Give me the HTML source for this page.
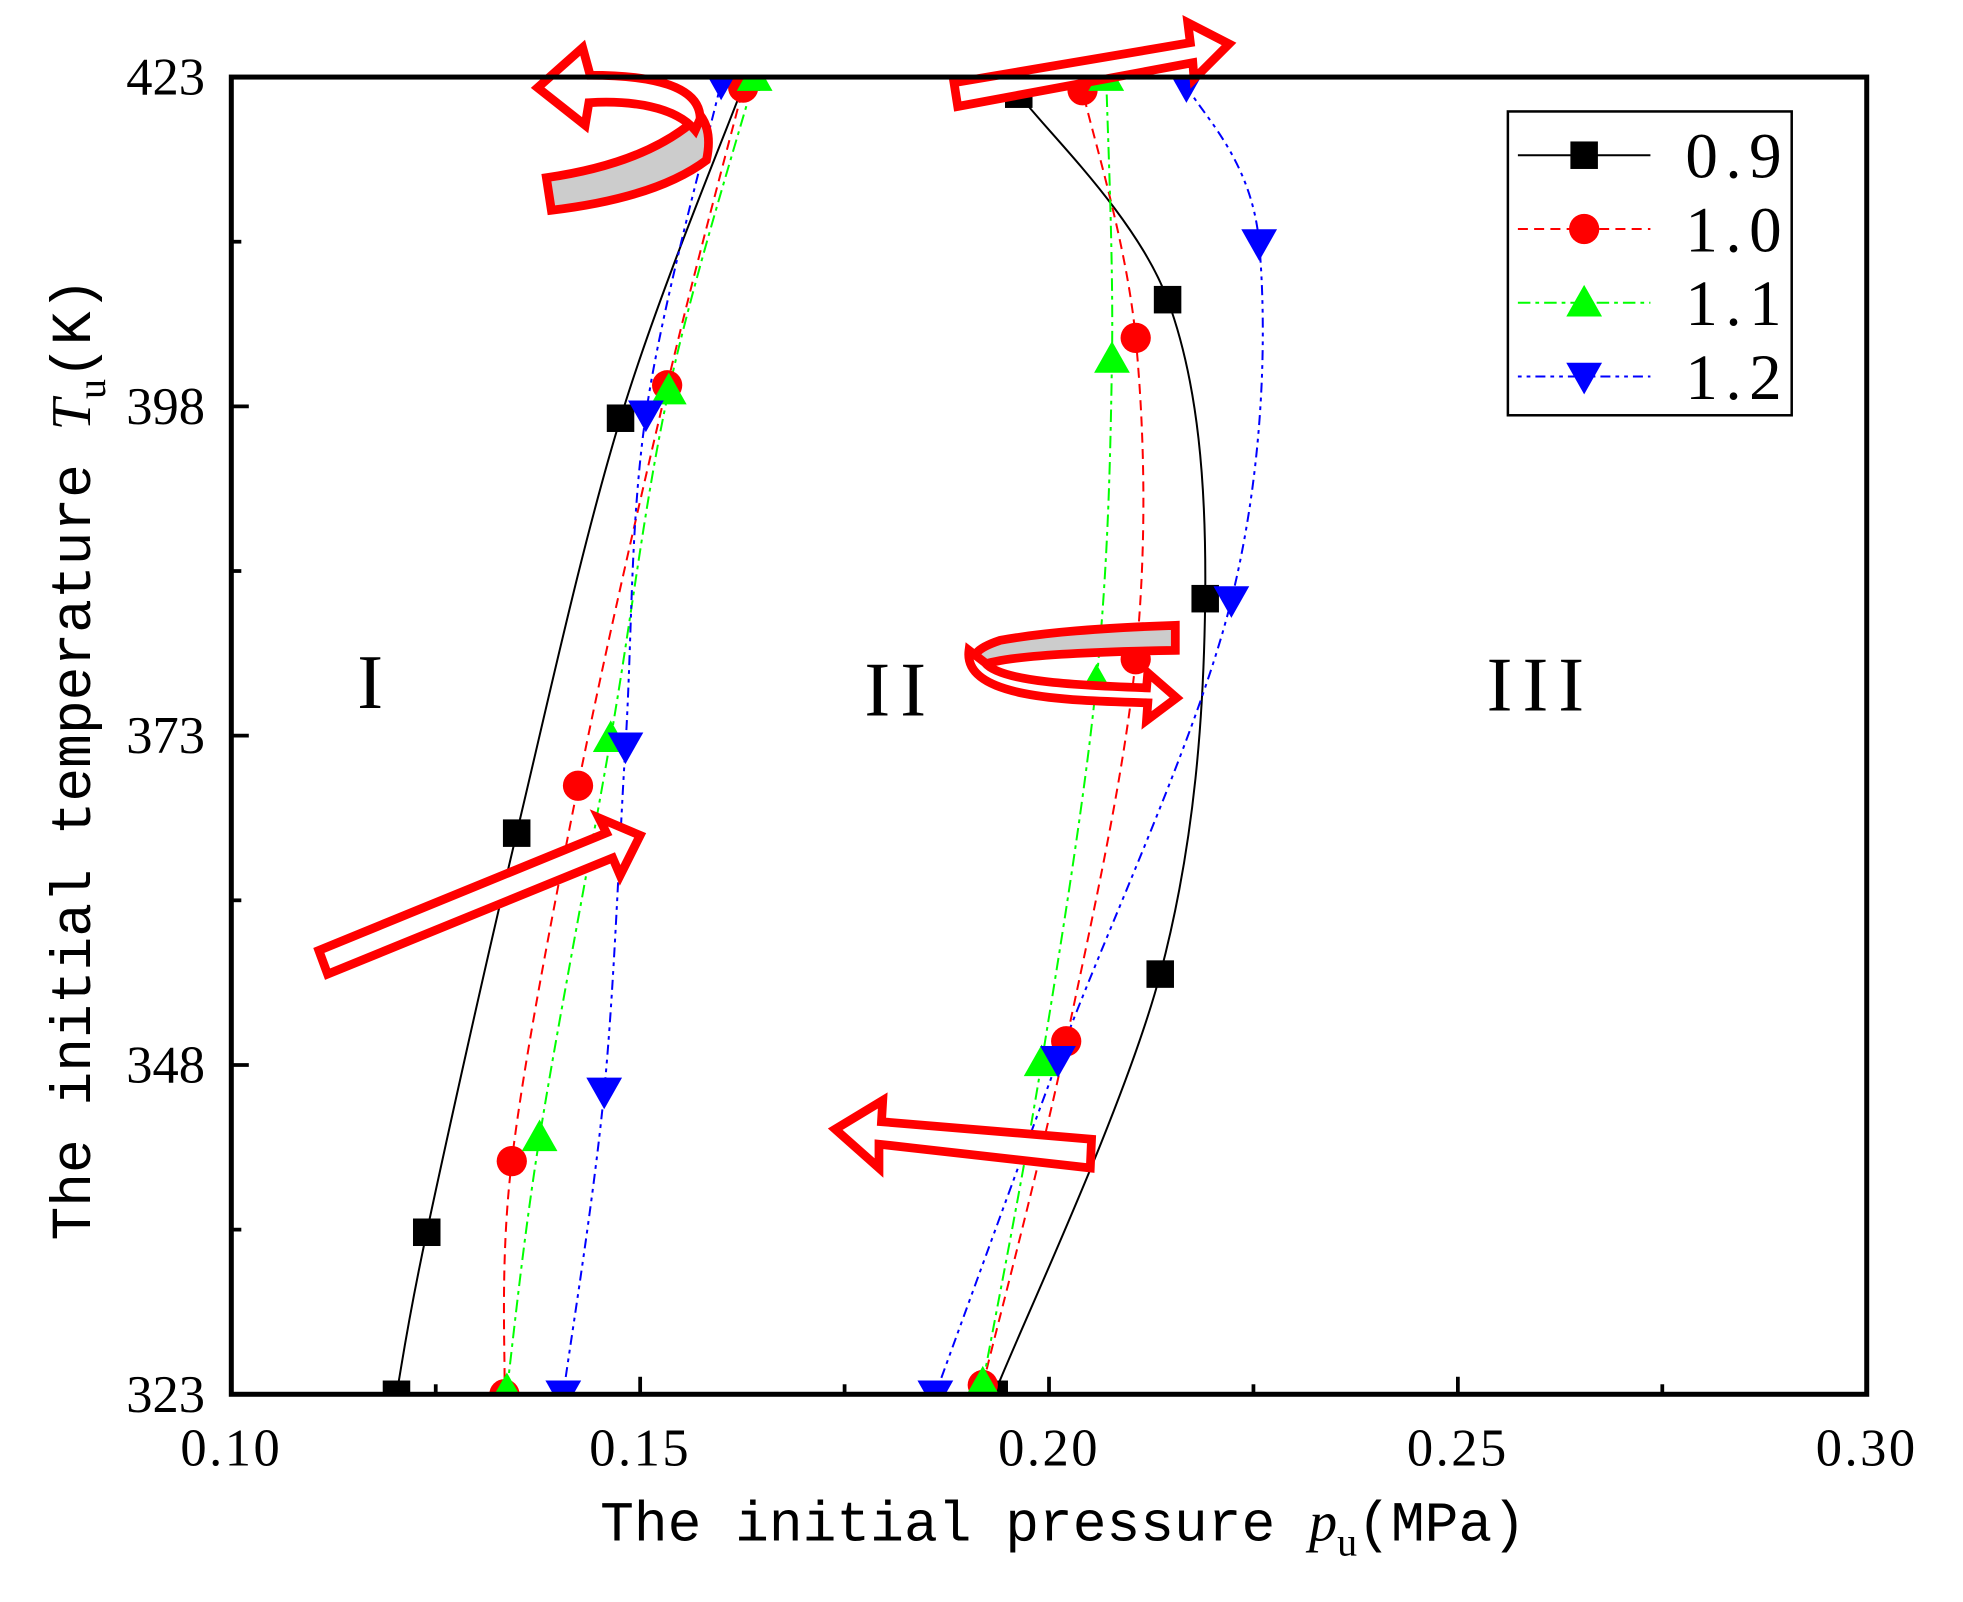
<!DOCTYPE html>
<html><head><meta charset="utf-8"><style>
html,body{margin:0;padding:0;background:#fff}
svg{display:block}
</style></head><body>
<svg id="chart" width="1963" height="1602" viewBox="0 0 1570 1281" xmlns="http://www.w3.org/2000/svg">
<defs><clipPath id="pc"><rect x="185" y="61.5" width="1308" height="1053.5"/></clipPath></defs>
<rect x="0" y="0" width="1570" height="1281" fill="#fff"/>
<g id="series" clip-path="url(#pc)"></g>
<g id="arrows" fill="#fff" stroke="#f00" stroke-width="7" stroke-linejoin="miter">
 <polygon points="255,760 485,666 479,654 512,668 496,700 490,686 262,779"/>
 <polygon points="763,66 952,34 950,18 983,35 955,63 954,50 766,85"/>
 <polygon points="873,911 705,897 706,880 668,903 703,934 703,915 872,934"/>
 <path fill="#ccc" d="M437,142 Q520,130 560,92 Q570,105 565,128 Q525,158 441,168 Z"/>
 <path d="M560,95 C560,68 520,60 472,60 L466,38 L430,70 L468,100 L471,82 C505,80 540,85 556,104 Z"/>
 <path fill="#ccc" d="M940,500 L940,520 Q810,522 785,532 Q770,522 800,512 Q850,503 940,500 Z"/>
 <path d="M775,520 C770,558 850,560 918,562 L917,576 L941,558 L918,538 L917,550 C860,548 800,545 788,530 Z"/>
</g>
<rect x="185" y="61.5" width="1308" height="1053.5" fill="none" stroke="#000" stroke-width="4"/>
<g id="ticks" stroke="#000" stroke-width="3"></g>
<g id="labels" font-family="'Liberation Serif', serif" fill="#000"></g>
<g font-family="'Liberation Serif', serif" font-size="62" fill="#000">
 <text x="296" y="566" text-anchor="middle">I</text>
 <text x="720" y="572" text-anchor="middle" letter-spacing="8">II</text>
 <text x="1232" y="568" text-anchor="middle" letter-spacing="8">III</text>
</g>
<text x="480" y="1232" font-family="'Liberation Mono', monospace" font-size="45">The initial pressure <tspan font-family="'Liberation Serif',serif" font-style="italic">p</tspan><tspan font-family="'Liberation Serif',serif" font-size="32" dy="12">u</tspan><tspan dy="-12">(MPa)</tspan></text>
<text transform="translate(72,992) rotate(-90)" font-family="'Liberation Mono', monospace" font-size="45">The initial temperature <tspan font-family="'Liberation Serif',serif" font-style="italic">T</tspan><tspan font-family="'Liberation Serif',serif" font-size="32" dy="12">u</tspan><tspan dy="-12">(K)</tspan></text>
<g id="legend"></g>
</svg>
<script>
const seriesNames=["0.9","1.0","1.1","1.2"];
const leftP=[[0.1202,0.1239,0.1349,0.1476,0.163],[0.1334,0.1343,0.1424,0.1533,0.1626],[0.1337,0.1377,0.1464,0.1535,0.164],[0.1406,0.1456,0.1482,0.1507,0.1599]];
const leftT=[[323,335.3,365.6,397.1,423],[323,340.7,369.2,399.6,422.2],[323.3,342.5,372.8,399.2,423],[323,346,372.2,397.4,422.6]];
const rightP=[[0.1933,0.2136,0.2191,0.2145,0.1963],[0.1919,0.2021,0.2106,0.2106,0.2041],[0.1919,0.1991,0.2058,0.2077,0.207],[0.1861,0.2011,0.2223,0.2257,0.2168]];
const rightT=[[323,354.9,383.4,406.1,421.7],[323.7,349.8,378.8,403.2,422],[323.8,348.2,377.1,401.6,423],[323,348.4,383.3,410.4,422.4]];
const xTicks=[0.10,0.15,0.20,0.25,0.30];
const xTickLabels=["0.10","0.15","0.20","0.25","0.30"];
const yTicks=[323,348,373,398,423];
const yTickLabels=["323","348","373","398","423"];

const NS="http://www.w3.org/2000/svg";
const X0=185,X1=1493,Y0=1115,Y1=61.5;
const xs=p=>X0+(p-0.10)/(0.30-0.10)*(X1-X0);
const ys=t=>Y0-(t-323)/(423-323)*(Y0-Y1);
const colors=["#000","#f00","#0f0","#00f"];
const dashes=["","8,5","10,4,3,4","3,4,3,4,8,4"];
const mk=(tag,attrs)=>{const e=document.createElementNS(NS,tag);for(const k in attrs)e.setAttribute(k,attrs[k]);return e;};
function spline(pts){
  let d="M"+pts[0][0]+","+pts[0][1];
  for(let i=0;i<pts.length-1;i++){
    const p0=pts[Math.max(i-1,0)],p1=pts[i],p2=pts[i+1],p3=pts[Math.min(i+2,pts.length-1)];
    const c1=[p1[0]+(p2[0]-p0[0])/6,p1[1]+(p2[1]-p0[1])/6];
    const c2=[p2[0]-(p3[0]-p1[0])/6,p2[1]-(p3[1]-p1[1])/6];
    d+=" C"+c1[0]+","+c1[1]+" "+c2[0]+","+c2[1]+" "+p2[0]+","+p2[1];
  }
  return d;
}
function marker(i,x,y,s){
  if(i===0)return mk("rect",{x:x-s,y:y-s,width:2*s,height:2*s,fill:colors[i]});
  if(i===1)return mk("circle",{cx:x,cy:y,r:s*1.1,fill:colors[i]});
  if(i===2)return mk("polygon",{points:`${x},${y-s*1.3} ${x-s*1.3},${y+s} ${x+s*1.3},${y+s}`,fill:colors[i]});
  return mk("polygon",{points:`${x},${y+s*1.3} ${x-s*1.3},${y-s} ${x+s*1.3},${y-s}`,fill:colors[i]});
}
const g=document.getElementById("series");
const lineG=mk("g",{}),markG=mk("g",{});
g.appendChild(lineG);g.appendChild(markG);
for(let i=0;i<4;i++){
  [[leftP,leftT,"left"],[rightP,rightT,"right"]].forEach(([P,T,side])=>{
    const pts=P[i].map((p,j)=>[xs(p),ys(T[i][j])]);
    const path=mk("path",{d:spline(pts),fill:"none",stroke:colors[i],"stroke-width":1.6,"stroke-dasharray":dashes[i]});
    
    
    lineG.appendChild(path);
    pts.forEach(([x,y],j)=>{
      const m=marker(i,x,y,11);
      
      
      markG.appendChild(m);
    });
  });
}
const tg=document.getElementById("ticks"),lg=document.getElementById("labels");
for(let v=0.10;v<=0.3001;v+=0.025){
  const x=xs(v),major=Math.abs(v*20-Math.round(v*20))<1e-6;
  const t=mk("line",{x1:x,x2:x,y1:Y0,y2:Y0-(major?14:8)});
  
  
  tg.appendChild(t);
}
xTicks.forEach((v,i)=>{
  const t=mk("text",{x:xs(v),y:1172,"text-anchor":"middle","font-size":42,"letter-spacing":2});
  t.textContent=xTickLabels[i];
  
  
  lg.appendChild(t);
});
for(let v=323;v<=423;v+=12.5){
  const y=ys(v),major=((v-323)%25)===0;
  const t=mk("line",{x1:X0,x2:X0+(major?14:8),y1:y,y2:y});
  
  
  tg.appendChild(t);
}
yTicks.forEach((v,i)=>{
  const t=mk("text",{x:164,y:ys(v)+14,"text-anchor":"end","font-size":42});
  t.textContent=yTickLabels[i];
  
  
  lg.appendChild(t);
});
const leg=document.getElementById("legend");
const box=mk("rect",{x:1206,y:89,width:227,height:243,fill:"#fff",stroke:"#000","stroke-width":2});


leg.appendChild(box);
seriesNames.forEach((n,i)=>{
  const y=124+i*59;
  const ln=mk("line",{x1:1214,x2:1320,y1:y,y2:y,stroke:colors[i],"stroke-width":1.6,"stroke-dasharray":dashes[i]});
  
  
  leg.appendChild(ln);
  const m=marker(i,1267,y,11);
  
  
  leg.appendChild(m);
  const t=mk("text",{x:1348,y:y+18,"font-size":52,"letter-spacing":6,"font-family":"'Liberation Serif', serif"});
  t.textContent=n;
  
  
  leg.appendChild(t);
});
</script>
</body></html>
